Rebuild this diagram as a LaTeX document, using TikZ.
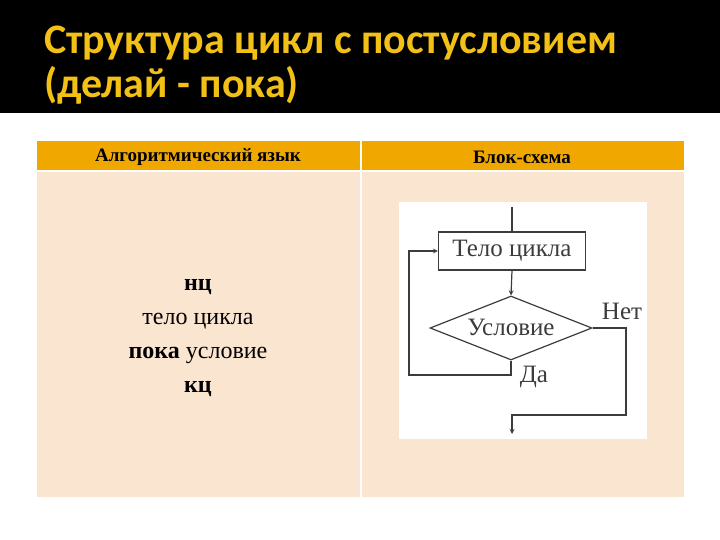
\documentclass[tikz,border=0pt]{standalone}
\usepackage{fontspec}
\setmainfont{Liberation Serif}
\newfontfamily\titlefont{Carlito}
\usetikzlibrary{shapes.geometric}
\definecolor{titleyellow}{RGB}{243,192,22}
\definecolor{headorange}{RGB}{240,168,0}
\definecolor{bodypeach}{RGB}{250,229,208}
\definecolor{scangray}{RGB}{60,60,60}
\tikzset{
  hdr/.style={font=\fontsize{19}{21}\selectfont\bfseries,text=black},
  code/.style={font=\fontsize{24}{26}\selectfont,text=black},
  block/.style={draw=scangray,line width=1.2pt,rectangle,minimum width=147pt,minimum height=38pt,inner sep=0pt},
  cond/.style={draw=scangray,line width=1.2pt,diamond,minimum width=162pt,minimum height=64pt,inner sep=0pt},
  scan/.style={font=\fontsize{25}{27}\selectfont,text=scangray},
  flow/.style={draw=scangray,line width=1.2pt},
}
\begin{document}
\begin{tikzpicture}[x=1pt,y=-1pt,>=stealth]
\useasboundingbox (0,0) rectangle (720,540);
\fill[white] (0,0) rectangle (720,540);
% title bar
\fill[black] (0,0) rectangle (720,113);
\node[anchor=base west,inner sep=0pt,text=titleyellow,font=\titlefont\bfseries\fontsize{42}{46}\selectfont] (title1) at (44,54) {Структура цикл с постусловием};
\node[anchor=base west,inner sep=0pt,text=titleyellow,font=\titlefont\bfseries\fontsize{42}{46}\selectfont] (title2) at (44,98) {(делай - пока)};
% table
\fill[headorange] (37,141) rectangle (684,171);
\fill[bodypeach] (37,171) rectangle (684,497);
\draw[white,line width=1.5pt] (37,171) -- (684,171);
\draw[white,line width=1.5pt] (361,141) -- (361,497);
\node[hdr] (hleft) at (198,157) {Алгоритмический язык};
\node[hdr] (hright) at (522,157) {Блок-схема};
% algorithmic language
\node[code] (nc) at (198,287) {\textbf{нц}};
\node[code] (body1) at (198,321) {тело цикла};
\node[code] (until) at (198,355) {\textbf{пока} условие};
\node[code] (kc) at (198,389) {\textbf{кц}};
% flowchart
\fill[white] (399,202) rectangle (647,439);
\node[block,scan] (body) at (512,251) {Тело цикла};
\node[cond] (test) at (511,328) {};
\node[scan] (testtext) at (511,327) {Условие};
\node[scan] (no) at (622,311) {Нет};
\node[scan] (yes) at (534,377) {Да};
\coordinate (entry) at (512,207);
\coordinate (exit) at (512,434);
\coordinate (yesturn) at (409,375);
\coordinate (noturn) at (626,415);
\draw[flow] (entry) -- (body.north);
\draw[flow,->] (body.south) -- (test.north);
\draw[flow,->] (test.south) |- (yesturn) |- (body.west);
\draw[flow,->] (test.east) -| (noturn) -| (exit);
\end{tikzpicture}
\end{document}
